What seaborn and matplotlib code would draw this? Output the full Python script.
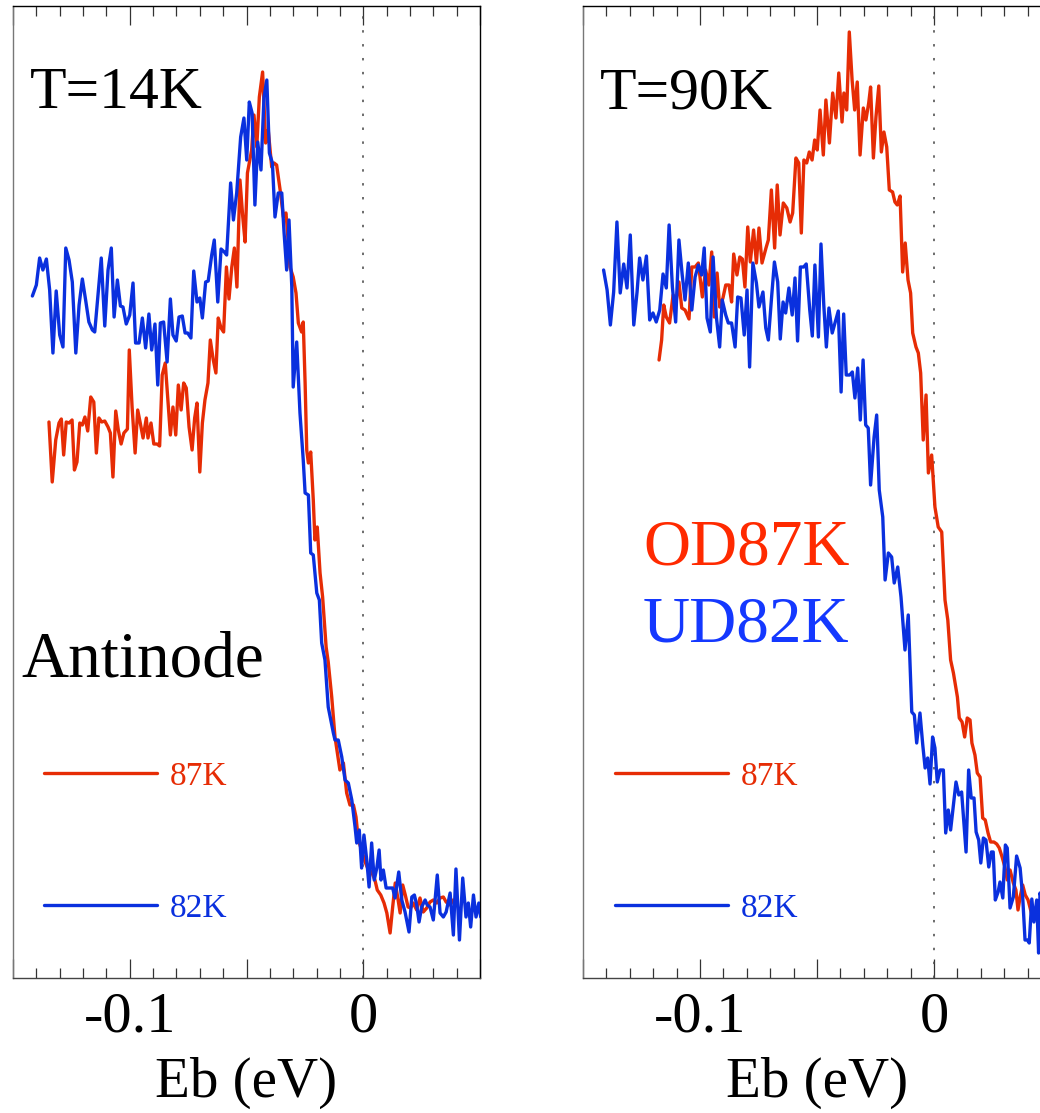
import numpy as np
import pandas as pd
import matplotlib
matplotlib.use("Agg")
import matplotlib.pyplot as plt
from matplotlib.ticker import MultipleLocator, FuncFormatter
import seaborn as sns

# ---- Antinode EDCs at T = 14 K (binding energy in eV, intensity in arb. units) ----
T14_UD82_E = [-0.1417, -0.1400, -0.1386, -0.1372, -0.1357, -0.1343, -0.1329, -0.1315, -0.1300, -0.1286,
              -0.1274, -0.1260, -0.1246, -0.1231, -0.1217, -0.1203, -0.1189, -0.1175, -0.1160, -0.1150,
              -0.1136, -0.1122, -0.1107, -0.1093, -0.1079, -0.1067, -0.1053, -0.1040, -0.1029, -0.1015,
              -0.1000, -0.0986, -0.0975, -0.0960, -0.0946, -0.0932, -0.0918, -0.0906, -0.0892, -0.0880,
              -0.0869, -0.0855, -0.0840, -0.0826, -0.0815, -0.0801, -0.0789, -0.0775, -0.0763, -0.0752,
              -0.0738, -0.0726, -0.0712, -0.0700, -0.0689, -0.0675, -0.0664, -0.0649, -0.0638, -0.0623,
              -0.0609, -0.0595, -0.0585, -0.0568, -0.0556, -0.0542, -0.0525, -0.0511, -0.0499, -0.0488,
              -0.0476, -0.0464, -0.0452, -0.0438, -0.0425, -0.0413, -0.0402, -0.0389, -0.0378, -0.0364,
              -0.0349, -0.0339, -0.0328, -0.0318, -0.0306, -0.0300, -0.0285, -0.0271, -0.0257, -0.0249,
              -0.0235, -0.0225, -0.0214, -0.0199, -0.0188, -0.0178, -0.0164, -0.0150, -0.0128, -0.0121,
              -0.0107, -0.0092, -0.0078, -0.0064, -0.0049, -0.0035, -0.0028, -0.0017, -0.0007, 0.0003,
              0.0015, 0.0025, 0.0036, 0.0047, 0.0058, 0.0068, 0.0076, 0.0086, 0.0098, 0.0115,
              0.0126, 0.0136, 0.0152, 0.0165, 0.0179, 0.0196, 0.0208, 0.0219, 0.0229, 0.0239,
              0.0250, 0.0265, 0.0274, 0.0286, 0.0300, 0.0317, 0.0329, 0.0343, 0.0355, 0.0372,
              0.0386, 0.0397, 0.0412, 0.0426, 0.0440, 0.0450, 0.0460, 0.0472, 0.0483, 0.0495, 0.0503]
T14_UD82_I = [68.2, 69.3, 72.0, 70.8, 71.9, 68.8, 62.5, 68.7, 64.3, 63.1,
              73.0, 71.8, 69.6, 62.5, 67.3, 69.9, 67.8, 65.6, 64.8, 64.6,
              68.3, 72.0, 65.2, 70.8, 73.0, 66.1, 69.8, 67.2, 67.1, 65.4,
              66.3, 69.5, 63.5, 63.5, 66.0, 63.0, 66.4, 62.8, 65.4, 59.3,
              65.5, 65.6, 61.6, 67.9, 64.3, 63.7, 66.1, 66.2, 64.5, 64.5,
              64.0, 70.7, 67.6, 68.0, 66.0, 69.6, 69.7, 72.3, 73.8, 67.6,
              72.9, 72.6, 72.3, 79.5, 75.8, 78.5, 84.1, 86.0, 81.8, 87.6,
              86.5, 77.3, 83.6, 80.8, 88.1, 89.8, 82.5, 81.5, 76.1, 78.5,
              78.5, 74.5, 70.8, 75.8, 69.1, 59.1, 63.6, 56.5, 51.8, 48.5,
              48.3, 42.5, 42.3, 38.5, 37.8, 33.5, 31.8, 27.1, 24.5, 23.8,
              23.8, 22.1, 19.8, 19.5, 17.8, 15.1, 13.5, 14.8, 11.0, 14.3,
              11.8, 9.1, 13.5, 9.8, 11.0, 12.8, 9.8, 10.8, 9.0, 9.0,
              9.0, 8.0, 10.6, 7.8, 6.6, 4.6, 8.1, 8.3, 7.3, 5.6,
              7.1, 7.8, 7.3, 7.1, 5.8, 10.3, 6.5, 6.1, 6.6, 8.5,
              4.3, 10.9, 3.8, 10.0, 6.1, 7.5, 5.1, 8.3, 6.1, 7.5, 6.1]

T14_OD87_E = [-0.1346, -0.1332, -0.1317, -0.1303, -0.1293, -0.1283, -0.1272, -0.1260, -0.1247, -0.1237,
              -0.1226, -0.1214, -0.1203, -0.1192, -0.1180, -0.1167, -0.1154, -0.1143, -0.1132, -0.1120,
              -0.1107, -0.1093, -0.1083, -0.1072, -0.1060, -0.1049, -0.1037, -0.1025, -0.1010, -0.1002,
              -0.0990, -0.0977, -0.0966, -0.0955, -0.0943, -0.0929, -0.0922, -0.0909, -0.0897, -0.0883,
              -0.0872, -0.0861, -0.0848, -0.0833, -0.0826, -0.0815, -0.0803, -0.0792, -0.0780, -0.0769,
              -0.0758, -0.0746, -0.0733, -0.0722, -0.0712, -0.0700, -0.0689, -0.0678, -0.0665, -0.0655,
              -0.0643, -0.0631, -0.0621, -0.0609, -0.0598, -0.0586, -0.0575, -0.0563, -0.0552, -0.0541,
              -0.0528, -0.0516, -0.0506, -0.0496, -0.0478, -0.0468, -0.0456, -0.0445, -0.0431, -0.0418,
              -0.0407, -0.0392, -0.0382, -0.0371, -0.0356, -0.0342, -0.0331, -0.0325, -0.0314, -0.0300,
              -0.0288, -0.0278, -0.0264, -0.0257, -0.0249, -0.0242, -0.0235, -0.0225, -0.0214, -0.0207,
              -0.0197, -0.0185, -0.0174, -0.0159, -0.0150, -0.0135, -0.0121, -0.0111, -0.0100, -0.0085,
              -0.0071, -0.0057, -0.0042, -0.0031, -0.0021, -0.0007, 0.0008, 0.0022, 0.0036, 0.0050,
              0.0060, 0.0075, 0.0089, 0.0101, 0.0115, 0.0126, 0.0137, 0.0148, 0.0158, 0.0169,
              0.0180, 0.0192, 0.0203, 0.0214, 0.0229, 0.0243, 0.0257, 0.0272, 0.0286, 0.0300,
              0.0315, 0.0329, 0.0343, 0.0355, 0.0372, 0.0385]
T14_OD87_I = [55.6, 49.6, 53.8, 55.5, 55.9, 52.3, 55.6, 55.5, 55.8, 50.8,
              51.6, 55.5, 55.3, 56.1, 54.7, 58.1, 57.6, 52.5, 56.0, 55.6,
              55.7, 55.1, 54.5, 50.1, 56.7, 54.8, 53.4, 54.5, 54.9, 62.8,
              57.1, 52.5, 56.8, 55.5, 54.0, 56.0, 54.0, 55.5, 53.4, 53.4,
              53.2, 60.3, 61.5, 56.5, 54.3, 57.1, 54.3, 59.3, 56.8, 59.5,
              59.0, 55.1, 52.8, 56.0, 57.5, 50.6, 55.5, 57.8, 59.5, 63.8,
              61.9, 60.5, 66.0, 65.0, 64.6, 71.1, 67.9, 71.1, 73.0, 69.1,
              79.8, 76.1, 73.6, 80.5, 82.8, 86.3, 83.1, 88.1, 90.6, 83.5,
              84.8, 81.1, 81.5, 81.3, 78.8, 76.1, 76.5, 74.8, 71.1, 70.1,
              68.5, 65.5, 64.6, 65.6, 59.5, 52.8, 51.5, 52.6, 47.8, 43.8,
              45.1, 40.5, 38.1, 33.1, 31.6, 28.1, 24.1, 22.5, 20.8, 21.5,
              18.5, 17.3, 17.3, 16.1, 13.8, 12.8, 11.6, 10.8, 10.6, 9.8,
              8.8, 8.3, 7.5, 6.5, 4.5, 7.1, 9.5, 8.0, 6.5, 9.3,
              8.3, 7.1, 7.0, 7.5, 6.8, 8.0, 6.6, 7.0, 7.6, 7.8,
              7.5, 8.0, 8.1, 7.6, 7.3, 7.8]

# ---- Antinode EDCs at T = 90 K ----
T90_UD82_E = [-0.1412, -0.1397, -0.1383, -0.1369, -0.1355, -0.1341, -0.1326, -0.1312, -0.1298, -0.1283,
              -0.1269, -0.1258, -0.1244, -0.1229, -0.1215, -0.1201, -0.1187, -0.1172, -0.1158, -0.1144,
              -0.1132, -0.1118, -0.1104, -0.1090, -0.1076, -0.1064, -0.1050, -0.1035, -0.1021, -0.1007,
              -0.0993, -0.0982, -0.0970, -0.0956, -0.0944, -0.0930, -0.0916, -0.0905, -0.0890, -0.0879,
              -0.0865, -0.0850, -0.0839, -0.0825, -0.0811, -0.0799, -0.0788, -0.0774, -0.0759, -0.0748,
              -0.0731, -0.0719, -0.0708, -0.0694, -0.0682, -0.0668, -0.0657, -0.0645, -0.0634, -0.0620,
              -0.0606, -0.0594, -0.0583, -0.0571, -0.0557, -0.0546, -0.0531, -0.0520, -0.0509, -0.0494,
              -0.0483, -0.0471, -0.0460, -0.0449, -0.0435, -0.0423, -0.0409, -0.0397, -0.0386, -0.0375,
              -0.0360, -0.0349, -0.0338, -0.0326, -0.0315, -0.0303, -0.0292, -0.0281, -0.0271, -0.0256,
              -0.0245, -0.0234, -0.0219, -0.0209, -0.0195, -0.0181, -0.0170, -0.0155, -0.0141, -0.0124,
              -0.0110, -0.0095, -0.0084, -0.0074, -0.0060, -0.0048, -0.0038, -0.0027, -0.0017, -0.0006,
              0.0004, 0.0014, 0.0026, 0.0040, 0.0050, 0.0061, 0.0071, 0.0083, 0.0094, 0.0106,
              0.0118, 0.0137, 0.0148, 0.0159, 0.0171, 0.0180, 0.0191, 0.0200, 0.0211, 0.0222,
              0.0234, 0.0245, 0.0253, 0.0262, 0.0274, 0.0282, 0.0294, 0.0305, 0.0313, 0.0325,
              0.0339, 0.0353, 0.0368, 0.0379, 0.0389, 0.0399, 0.0407, 0.0418, 0.0427, 0.0439,
              0.0447, 0.0453, 0.0466, 0.0479]
T90_UD82_I = [70.8, 68.8, 65.3, 68.6, 75.6, 68.5, 71.4, 69.0, 74.3, 65.3,
              68.6, 72.0, 69.8, 72.2, 65.8, 66.5, 65.6, 66.8, 70.4, 69.0,
              75.3, 69.1, 65.6, 73.8, 70.3, 67.8, 71.5, 66.8, 70.1, 71.3,
              70.3, 73.0, 66.0, 64.6, 72.1, 66.1, 63.1, 67.8, 66.3, 65.5,
              65.5, 63.1, 68.1, 68.0, 64.3, 68.8, 61.1, 71.5, 69.5, 67.1,
              68.6, 65.0, 63.8, 68.1, 71.6, 69.6, 63.9, 67.6, 66.5, 69.0,
              66.3, 70.0, 63.7, 71.1, 71.1, 71.4, 66.8, 64.2, 71.3, 64.1,
              73.4, 67.3, 63.1, 67.0, 64.5, 65.5, 66.7, 58.6, 66.4, 60.3,
              60.3, 60.6, 58.0, 61.0, 55.8, 61.8, 55.3, 55.0, 49.3, 54.1,
              56.3, 48.8, 46.1, 39.8, 42.5, 42.1, 39.5, 41.1, 38.1, 32.8,
              36.3, 26.6, 26.3, 23.5, 26.5, 23.3, 21.0, 22.0, 19.4, 24.1,
              23.0, 19.6, 20.8, 20.8, 14.5, 16.8, 14.8, 17.3, 19.6, 18.3,
              18.6, 12.6, 20.8, 18.0, 18.0, 14.6, 13.8, 11.5, 14.0, 13.8,
              11.1, 12.6, 12.6, 7.8, 8.6, 9.6, 8.0, 13.3, 13.0, 7.0,
              8.1, 12.2, 11.0, 8.1, 3.8, 3.8, 3.5, 7.9, 5.6, 7.8,
              2.5, 8.5, 7.3, 6.3]

T90_OD87_E = [-0.1175, -0.1164, -0.1155, -0.1144, -0.1130, -0.1115, -0.1101, -0.1090, -0.1078, -0.1064,
              -0.1047, -0.1035, -0.1021, -0.1007, -0.0990, -0.0976, -0.0962, -0.0950, -0.0939, -0.0927,
              -0.0916, -0.0902, -0.0890, -0.0876, -0.0865, -0.0856, -0.0842, -0.0830, -0.0819, -0.0808,
              -0.0796, -0.0785, -0.0771, -0.0759, -0.0748, -0.0735, -0.0718, -0.0708, -0.0695, -0.0681,
              -0.0670, -0.0658, -0.0644, -0.0629, -0.0615, -0.0604, -0.0590, -0.0578, -0.0567, -0.0556,
              -0.0544, -0.0533, -0.0521, -0.0510, -0.0499, -0.0487, -0.0473, -0.0462, -0.0447, -0.0433,
              -0.0419, -0.0407, -0.0393, -0.0385, -0.0373, -0.0362, -0.0350, -0.0339, -0.0328, -0.0316,
              -0.0302, -0.0291, -0.0279, -0.0271, -0.0259, -0.0248, -0.0236, -0.0225, -0.0214, -0.0202,
              -0.0191, -0.0177, -0.0167, -0.0157, -0.0145, -0.0134, -0.0123, -0.0111, -0.0100, -0.0091,
              -0.0077, -0.0067, -0.0057, -0.0046, -0.0034, -0.0024, -0.0010, 0.0004, 0.0018, 0.0033,
              0.0047, 0.0059, 0.0071, 0.0083, 0.0100, 0.0108, 0.0120, 0.0131, 0.0142, 0.0154,
              0.0162, 0.0175, 0.0185, 0.0197, 0.0208, 0.0219, 0.0231, 0.0242, 0.0256, 0.0268,
              0.0279, 0.0291, 0.0303, 0.0313, 0.0325, 0.0339, 0.0350, 0.0359, 0.0368, 0.0379,
              0.0390, 0.0402, 0.0413, 0.0424, 0.0439, 0.0453, 0.0470]
T90_OD87_I = [61.8, 63.8, 67.3, 66.1, 65.5, 68.3, 67.8, 69.6, 67.0, 66.8,
              65.9, 71.1, 71.1, 71.5, 68.1, 70.8, 69.3, 72.6, 66.1, 70.5,
              67.1, 68.0, 69.3, 69.3, 67.6, 72.4, 70.3, 72.1, 71.9, 69.1,
              75.1, 71.6, 74.8, 71.5, 75.0, 71.5, 73.0, 73.8, 78.8, 73.0,
              79.3, 74.3, 77.5, 77.0, 75.6, 76.5, 82.0, 81.5, 74.5, 81.8,
              81.5, 82.6, 81.8, 83.8, 82.8, 86.8, 82.3, 87.8, 83.5, 88.5,
              86.0, 90.5, 85.6, 88.5, 86.8, 94.6, 89.8, 86.8, 89.6, 82.3,
              87.0, 85.8, 87.5, 89.1, 82.0, 86.1, 89.2, 82.6, 84.6, 83.1,
              78.8, 78.6, 77.6, 77.3, 78.2, 70.6, 73.5, 69.8, 68.5, 64.5,
              63.1, 62.5, 60.5, 53.8, 58.3, 50.5, 52.3, 47.1, 45.1, 44.6,
              37.8, 35.8, 31.8, 30.5, 28.1, 26.0, 25.6, 24.1, 26.0, 25.8,
              23.5, 22.3, 20.5, 20.1, 16.0, 15.8, 14.5, 13.6, 13.6, 13.4,
              13.0, 12.1, 11.1, 9.8, 10.8, 9.5, 8.8, 6.8, 8.1, 9.3,
              8.3, 7.8, 6.8, 5.8, 6.5, 6.1, 6.6]

SAMPLES = ["87K", "82K"]
PALETTE = {"87K": "#E62C05", "82K": "#0A30DE"}
PANEL_TITLES = ["T=14K", "T=90K"]
X_LABEL = "Eb (eV)"

W, H = 1040, 1113
fig = plt.figure(figsize=(W / 100, H / 100), dpi=100)
sns.set_style("white")
plt.rcParams["font.family"] = ["Liberation Serif", "DejaVu Serif"]
plt.rcParams["axes.unicode_minus"] = False
plt.rcParams["text.color"] = "black"
plt.rcParams["axes.labelcolor"] = "black"
plt.rcParams["xtick.color"] = "black"
plt.rcParams["xtick.labelcolor"] = "black"


def frame(red_E, red_I, blue_E, blue_I):
    return pd.concat([
        pd.DataFrame({"E": red_E, "I": red_I, "sample": "87K"}),
        pd.DataFrame({"E": blue_E, "I": blue_I, "sample": "82K"}),
    ], ignore_index=True)


panels = [
    frame(T14_OD87_E, T14_OD87_I, T14_UD82_E, T14_UD82_I),
    frame(T90_OD87_E, T90_OD87_I, T90_UD82_E, T90_UD82_I),
]
rects = [
    [13 / W, 135 / H, 467 / W, 972 / H],
    [583 / W, 135 / H, 468 / W, 972 / H],
]
legend_x = [0.0664, 0.0684]


def tick_fmt(v, pos):
    k = round(v / 0.1)
    if abs(v - k * 0.1) < 1e-9:
        return "0" if k == 0 else f"{k * 0.1:.1f}"
    return ""


for i, (df, rect) in enumerate(zip(panels, rects)):
    ax = fig.add_axes(rect)
    ax.axvline(0, color="#444444", lw=1.1, ls=(0, (1.6, 7.5)), zorder=1)
    sns.lineplot(data=df, x="E", y="I", hue="sample", hue_order=SAMPLES,
                 palette=PALETTE, estimator=None, sort=False, lw=2.4,
                 legend=False, ax=ax, zorder=3)
    ax.set_xlim(-0.15, 0.05)
    ax.set_ylim(0, 97.2)
    ax.set_yticks([])
    ax.set_ylabel("")
    ax.set_xlabel(X_LABEL, fontsize=41, labelpad=9, color="black")

    ax.xaxis.set_major_locator(MultipleLocator(0.05))
    ax.xaxis.set_minor_locator(MultipleLocator(0.01))
    ax.xaxis.set_major_formatter(FuncFormatter(tick_fmt))
    ax.tick_params(axis="x", which="both", direction="in", top=True, bottom=True,
                   color="#333333", labelcolor="black", width=0.9, labelsize=42, pad=10)
    ax.tick_params(axis="x", which="major", length=14)
    ax.tick_params(axis="x", which="minor", length=7.2)

    for side in ["top", "right"]:
        ax.spines[side].set_color("black")
        ax.spines[side].set_linewidth(1.0)
    ax.spines["left"].set_color("#777777")
    ax.spines["bottom"].set_color("#444444")
    for side in ["left", "bottom"]:
        ax.spines[side].set_linewidth(1.0)

    ax.text(0.0364, 0.895, PANEL_TITLES[i], transform=ax.transAxes,
            fontsize=43, va="baseline", ha="left", color="black")

    handles = [ax.lines[1], ax.lines[2]]
    ax.legend(handles=handles, labels=SAMPLES, loc="center left",
              bbox_to_anchor=(legend_x[i], 0.1395), frameon=False, fontsize=24,
              handlelength=3.4, handletextpad=0.36, labelspacing=3.05,
              borderpad=0, borderaxespad=0, labelcolor="linecolor")

    if i == 0:
        ax.text(0.0171, 0.3097, "Antinode", transform=ax.transAxes,
                fontsize=47, va="baseline", ha="left", color="black")
    else:
        ax.text(0.128, 0.425, "OD87K", transform=ax.transAxes,
                fontsize=47, va="baseline", ha="left", color="#FF2A00")
        ax.text(0.128, 0.3457, "UD82K", transform=ax.transAxes,
                fontsize=47, va="baseline", ha="left", color="#1438FF")

fig.savefig("out.png", dpi=100)
